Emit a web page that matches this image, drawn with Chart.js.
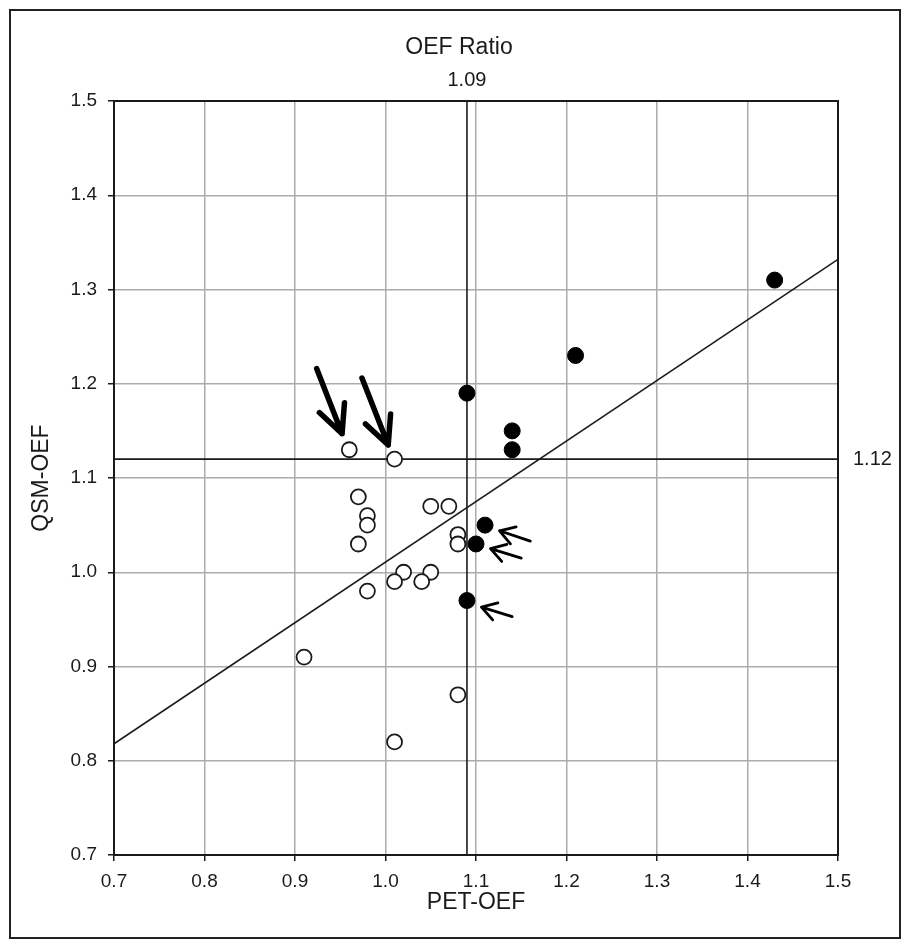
<!DOCTYPE html>
<html lang="en">
<head>
    <meta charset="UTF-8">
    <title>OEF Ratio</title>
    <script src="https://cdn.jsdelivr.net/npm/chart.js"></script>
    <style>
        body { margin: 0; background: #fff; }
        .wrap { position: relative; width: 909px; height: 947px; }
        .frame {
            position: absolute;
            left: 9px; top: 9px;
            width: 888px; height: 926px;
            border: 2px solid #222;
            pointer-events: none;
        }
        canvas { position: absolute; left: 0; top: 0; }
    </style>
</head>
<body>
    <div class="wrap">
        <canvas id="oefChart" width="909" height="947"></canvas>
        <div class="frame"></div>
    </div>
    <script>
        // open circles
        const openX = [0.96, 1.01, 0.97, 0.98, 0.98, 0.97, 1.05, 1.07, 1.08, 1.08, 1.02, 1.01, 1.05, 1.04, 0.98, 0.91, 1.08, 1.01];
        const openY = [1.13, 1.12, 1.08, 1.06, 1.05, 1.03, 1.07, 1.07, 1.04, 1.03, 1.00, 0.99, 1.00, 0.99, 0.98, 0.91, 0.87, 0.82];
        // filled circles
        const filledX = [1.43, 1.21, 1.09, 1.14, 1.14, 1.11, 1.10, 1.09];
        const filledY = [1.31, 1.23, 1.19, 1.15, 1.13, 1.05, 1.03, 0.97];
        // regression line ends
        const fitX = [0.7, 1.5];
        const fitY = [0.818, 1.332];
        // reference lines
        const refX = 1.09;
        const refY = 1.12;
        const xTicks = [0.7, 0.8, 0.9, 1.0, 1.1, 1.2, 1.3, 1.4, 1.5];
        const yTicks = [0.7, 0.8, 0.9, 1.0, 1.1, 1.2, 1.3, 1.4, 1.5];
        // arrows: tail -> tip, in data units
        const bigArrowTail = [[0.924, 1.216], [0.974, 1.206]];
        const bigArrowTip = [[0.952, 1.147], [1.003, 1.135]];
        const smallArrowTail = [[1.160, 1.033], [1.150, 1.015], [1.140, 0.953]];
        const smallArrowTip = [[1.126, 1.044], [1.116, 1.025], [1.106, 0.963]];

        const FONT = "'Liberation Sans Narrow', 'Liberation Sans', Arial, sans-serif";
        const INK = '#1a1a1a';

        function pts(xs, ys) {
            return xs.map((x, i) => ({ x: x, y: ys[i] }));
        }

        function arrow(ctx, x0, y0, x1, y1, headLen, halfAngle, width) {
            const ang = Math.atan2(y0 - y1, x0 - x1);
            ctx.save();
            ctx.strokeStyle = '#000';
            ctx.lineWidth = width;
            ctx.lineCap = 'round';
            ctx.lineJoin = 'round';
            ctx.beginPath();
            ctx.moveTo(x0, y0);
            ctx.lineTo(x1, y1);
            ctx.moveTo(x1 + headLen * Math.cos(ang - halfAngle), y1 + headLen * Math.sin(ang - halfAngle));
            ctx.lineTo(x1, y1);
            ctx.lineTo(x1 + headLen * Math.cos(ang + halfAngle), y1 + headLen * Math.sin(ang + halfAngle));
            ctx.stroke();
            ctx.restore();
        }

        const extras = {
            id: 'extras',
            beforeDatasetsDraw(chart) {
                const { ctx, chartArea: a } = chart;
                ctx.save();
                ctx.strokeStyle = INK;
                ctx.lineWidth = 2;
                ctx.strokeRect(a.left, a.top, a.right - a.left, a.bottom - a.top);
                ctx.restore();
            },
            afterDatasetsDraw(chart) {
                const { ctx, scales: { x, y }, chartArea: a } = chart;
                for (let i = 0; i < bigArrowTip.length; i++) {
                    arrow(ctx,
                        x.getPixelForValue(bigArrowTail[i][0]), y.getPixelForValue(bigArrowTail[i][1]),
                        x.getPixelForValue(bigArrowTip[i][0]), y.getPixelForValue(bigArrowTip[i][1]),
                        31, 0.45, 5.5);
                }
                for (let i = 0; i < smallArrowTip.length; i++) {
                    arrow(ctx,
                        x.getPixelForValue(smallArrowTail[i][0]), y.getPixelForValue(smallArrowTail[i][1]),
                        x.getPixelForValue(smallArrowTip[i][0]), y.getPixelForValue(smallArrowTip[i][1]),
                        17, 0.55, 2.8);
                }
                ctx.save();
                ctx.fillStyle = INK;
                ctx.textBaseline = 'middle';
                ctx.textAlign = 'center';
                ctx.font = '23px ' + FONT;
                ctx.fillText('OEF Ratio', 459, 48);
                ctx.font = '20px ' + FONT;
                ctx.fillText(refX.toFixed(2), x.getPixelForValue(refX), 80);
                ctx.textAlign = 'left';
                ctx.fillText(refY.toFixed(2), a.right + 15, y.getPixelForValue(refY));
                ctx.restore();
            }
        };

        const lineStyle = {
            type: 'scatter',
            showLine: true,
            borderColor: INK,
            borderWidth: 1.6,
            pointRadius: 0,
            fill: false,
            order: 3
        };

        new Chart(document.getElementById('oefChart').getContext('2d'), {
            type: 'scatter',
            data: {
                datasets: [
                    {
                        label: 'open',
                        data: pts(openX, openY),
                        pointRadius: 7.5,
                        pointBackgroundColor: '#fff',
                        pointBorderColor: INK,
                        pointBorderWidth: 1.8,
                        order: 1
                    },
                    {
                        label: 'filled',
                        data: pts(filledX, filledY),
                        pointRadius: 8,
                        pointBackgroundColor: '#000',
                        pointBorderColor: '#000',
                        pointBorderWidth: 1,
                        order: 1
                    },
                    Object.assign({ label: 'fit', data: pts(fitX, fitY) }, lineStyle),
                    Object.assign({ label: 'refX', data: [{ x: refX, y: yTicks[0] }, { x: refX, y: yTicks[yTicks.length - 1] }] }, lineStyle),
                    Object.assign({ label: 'refY', data: [{ x: xTicks[0], y: refY }, { x: xTicks[xTicks.length - 1], y: refY }] }, lineStyle)
                ]
            },
            options: {
                responsive: false,
                animation: false,
                devicePixelRatio: 1,
                layout: { padding: { left: 0, right: 71, top: 101, bottom: 0 } },
                plugins: {
                    legend: { display: false },
                    tooltip: { enabled: false }
                },
                scales: {
                    x: {
                        type: 'linear',
                        min: xTicks[0],
                        max: xTicks[xTicks.length - 1],
                        afterBuildTicks: s => { s.ticks = xTicks.map(v => ({ value: v })); },
                        afterFit: s => { s.height = 92; },
                        ticks: {
                            callback: v => v.toFixed(1),
                            color: INK,
                            font: { family: FONT, size: 19 },
                            padding: 9,
                            maxRotation: 0
                        },
                        grid: { color: '#ababab', lineWidth: 1.5, tickLength: 6, tickColor: INK },
                        border: { color: INK, width: 2 },
                        title: {
                            display: true,
                            text: 'PET-OEF',
                            color: INK,
                            font: { family: FONT, size: 23 },
                            padding: { top: 0, bottom: 31 }
                        }
                    },
                    y: {
                        type: 'linear',
                        min: yTicks[0],
                        max: yTicks[yTicks.length - 1],
                        afterBuildTicks: s => { s.ticks = yTicks.map(v => ({ value: v })); },
                        afterFit: s => { s.width = 114; },
                        ticks: {
                            callback: v => v.toFixed(1),
                            color: INK,
                            font: { family: FONT, size: 19 },
                            padding: 11
                        },
                        grid: { color: '#ababab', lineWidth: 1.5, tickLength: 6, tickColor: INK },
                        border: { color: INK, width: 2 },
                        title: {
                            display: true,
                            text: 'QSM-OEF',
                            color: INK,
                            font: { family: FONT, size: 23 },
                            padding: { top: 28, bottom: 0 }
                        }
                    }
                }
            },
            plugins: [extras]
        });
    </script>
</body>
</html>
